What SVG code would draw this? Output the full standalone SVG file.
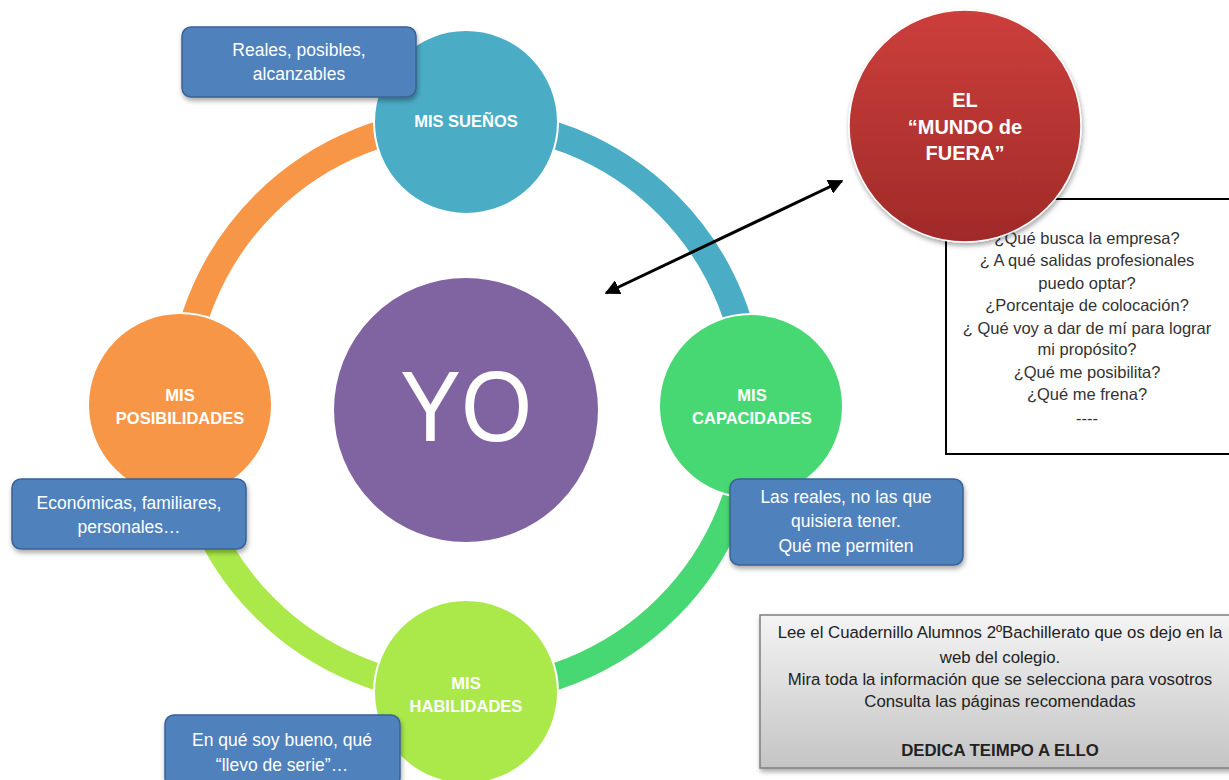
<svg xmlns="http://www.w3.org/2000/svg" width="1229" height="780" viewBox="0 0 1229 780">
<defs>
  <filter id="sh" x="-20%" y="-20%" width="140%" height="150%">
    <feDropShadow dx="1" dy="3" stdDeviation="2.5" flood-color="#000" flood-opacity="0.35"/>
  </filter>
  <linearGradient id="redg" x1="0" y1="0" x2="0" y2="1">
    <stop offset="0" stop-color="#CC3F3C"/>
    <stop offset="1" stop-color="#A02A28"/>
  </linearGradient>
  <linearGradient id="grayg" x1="0" y1="0" x2="0" y2="1">
    <stop offset="0" stop-color="#F4F4F4"/>
    <stop offset="1" stop-color="#C4C4C4"/>
  </linearGradient>
  <marker id="ah" viewBox="0 0 10 10" refX="9" refY="5" markerWidth="5" markerHeight="5" orient="auto-start-reverse" markerUnits="strokeWidth">
    <path d="M0,0 L10,5 L0,10 Z" fill="#000"/>
  </marker>
  <style>
    .lbl{font-family:"Liberation Sans",Arial,sans-serif;font-weight:bold;font-size:16.5px;fill:#fff;text-anchor:middle}
    .big{font-size:20px}
    .blue{fill:#4F81BD;stroke:#3A6293;stroke-width:1.5}
    .btx{font-family:"Liberation Sans",Arial,sans-serif;font-size:17.5px;fill:#fff;text-anchor:middle}
    .qtx{font-family:"Liberation Sans",Arial,sans-serif;font-size:16.5px;fill:#333;text-anchor:middle}
    .gtx{font-family:"Liberation Sans",Arial,sans-serif;font-size:16.8px;fill:#222;text-anchor:middle}
    .arc{fill:none;stroke-width:27}
    .node{stroke:#fff;stroke-width:2}
  </style>
</defs>
<rect width="1229" height="780" fill="#fff"/>

<g id="connectors">
  <path class="arc" stroke="#4BACC6" d="M466,121 A285,285 0 0 1 751,406"/>
  <path class="arc" stroke="#48D873" d="M751,406 A285,285 0 0 1 466,691"/>
  <path class="arc" stroke="#ABE94A" d="M466,691 A285,285 0 0 1 181,406"/>
  <path class="arc" stroke="#F79646" d="M181,406 A285,285 0 0 1 466,121"/>
</g>

<g id="yo">
  <circle class="node" cx="466" cy="410" r="133" fill="#8064A2"/>
  <text x="466" y="441" font-family="Liberation Sans,Arial,sans-serif" font-size="100" fill="#fff" text-anchor="middle" textLength="132" lengthAdjust="spacingAndGlyphs">YO</text>
</g>

<g id="suenos">
  <circle class="node" cx="466" cy="122" r="92" fill="#4BACC6"/>
  <text class="lbl" x="466" y="127">MIS SUEÑOS</text>
</g>
<g id="capacidades">
  <circle class="node" cx="751" cy="406" r="92" fill="#48D873"/>
  <text class="lbl" x="752" y="401">MIS</text>
  <text class="lbl" x="752" y="424">CAPACIDADES</text>
</g>
<g id="habilidades">
  <circle class="node" cx="466" cy="692" r="92" fill="#ABE94A"/>
  <text class="lbl" x="466" y="689">MIS</text>
  <text class="lbl" x="466" y="712">HABILIDADES</text>
</g>
<g id="posibilidades">
  <circle class="node" cx="180" cy="405" r="92" fill="#F79646"/>
  <text class="lbl" x="180" y="401">MIS</text>
  <text class="lbl" x="180" y="424">POSIBILIDADES</text>
</g>

<g id="box-suenos">
  <rect class="blue" x="182" y="27" width="234" height="70" rx="9" filter="url(#sh)"/>
  <text class="btx" x="299" y="56">Reales, posibles,</text>
  <text class="btx" x="299" y="80">alcanzables</text>
</g>
<g id="box-posibilidades">
  <rect class="blue" x="12" y="479" width="234" height="70" rx="9" filter="url(#sh)"/>
  <text class="btx" x="129" y="509">Económicas, familiares,</text>
  <text class="btx" x="129" y="533">personales…</text>
</g>
<g id="box-habilidades">
  <rect class="blue" x="165" y="715" width="235" height="72" rx="9" filter="url(#sh)"/>
  <text class="btx" x="282" y="746">En qué soy bueno,  qué</text>
  <text class="btx" x="282" y="771">“llevo de serie”…</text>
</g>
<g id="box-capacidades">
  <rect class="blue" x="730" y="479" width="233" height="86" rx="9" filter="url(#sh)"/>
  <text class="btx" x="846" y="503">Las reales, no las que</text>
  <text class="btx" x="846" y="527">quisiera  tener.</text>
  <text class="btx" x="846" y="552">Qué me permiten</text>
</g>

<g id="preguntas">
  <rect x="946" y="199" width="285" height="255" fill="#fff" stroke="#000" stroke-width="2"/>
  <text class="qtx" x="1087" y="244">¿Qué busca la empresa?</text>
  <text class="qtx" x="1087" y="266">¿ A qué salidas profesionales</text>
  <text class="qtx" x="1087" y="289">puedo optar?</text>
  <text class="qtx" x="1087" y="311">¿Porcentaje de colocación?</text>
  <text class="qtx" x="1087" y="334">¿ Qué voy a dar de mí para lograr</text>
  <text class="qtx" x="1087" y="355">mi propósito?</text>
  <text class="qtx" x="1087" y="378">¿Qué me posibilita?</text>
  <text class="qtx" x="1087" y="400">¿Qué me frena?</text>
  <text class="qtx" x="1087" y="424">----</text>
</g>

<g id="mundo">
  <circle cx="965" cy="126" r="116" fill="url(#redg)" stroke="#fff" stroke-width="1.5" filter="url(#sh)"/>
  <text class="lbl big" x="965" y="107">EL</text>
  <text class="lbl big" x="965" y="134">“MUNDO de</text>
  <text class="lbl big" x="965" y="160">FUERA”</text>
</g>

<g id="consejo">
  <rect x="760" y="615" width="475" height="153" fill="url(#grayg)" stroke="#7F7F7F" stroke-width="1.5" filter="url(#sh)"/>
  <text class="gtx" x="1000" y="638">Lee el Cuadernillo Alumnos 2ºBachillerato que os dejo en la</text>
  <text class="gtx" x="1000" y="663">web del colegio.</text>
  <text class="gtx" x="1000" y="685">Mira toda la información que se selecciona para vosotros</text>
  <text class="gtx" x="1000" y="707">Consulta las páginas recomendadas</text>
  <text class="gtx" x="1000" y="756" font-weight="bold">DEDICA TEIMPO A ELLO</text>
</g>

<g id="arrow">
  <line x1="606" y1="293" x2="842" y2="181" stroke="#000" stroke-width="3" marker-start="url(#ah)" marker-end="url(#ah)"/>
</g>
</svg>
